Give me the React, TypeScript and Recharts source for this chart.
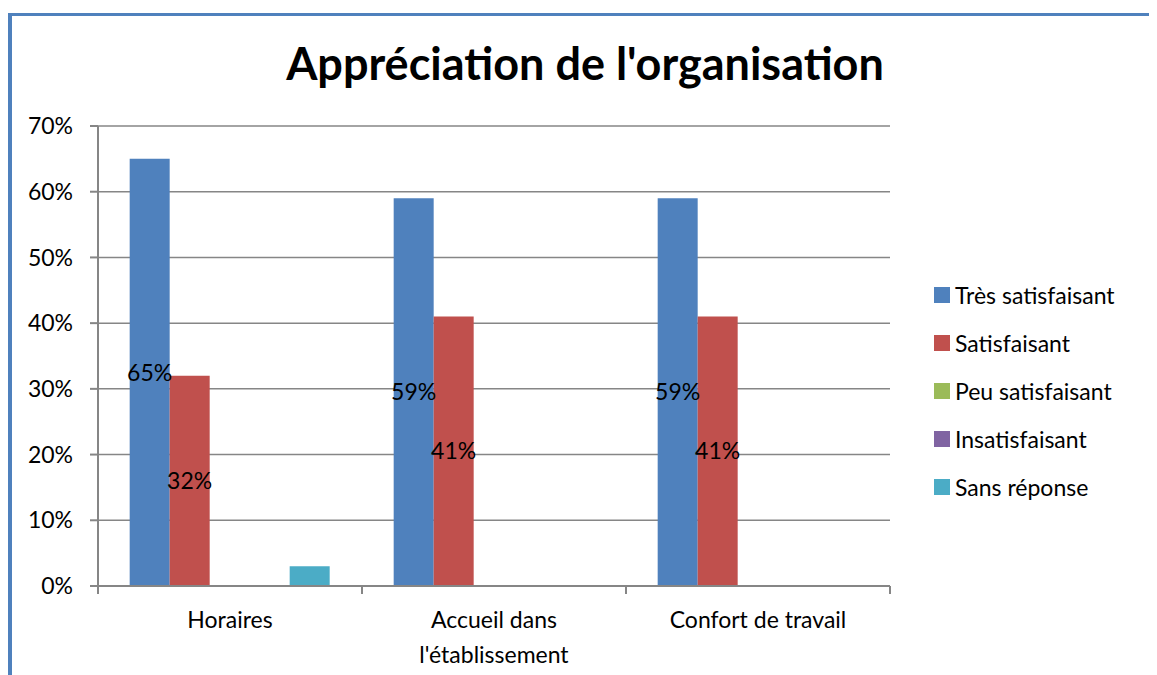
import { BarChart, Bar, XAxis, YAxis, CartesianGrid, Legend, LabelList } from 'recharts';

const categories = ['Horaires', "Accueil dans l'établissement", 'Confort de travail'];
const xTickLines = [['Horaires'], ['Accueil dans', "l'établissement"], ['Confort de travail']];
const tresSatisfaisant = [0.65, 0.59, 0.59];
const satisfaisant = [0.32, 0.41, 0.41];
const peuSatisfaisant = [0, 0, 0];
const insatisfaisant = [0, 0, 0];
const sansReponse = [0.03, 0, 0];
const yTicks = [0, 0.1, 0.2, 0.3, 0.4, 0.5, 0.6, 0.7];

const series = [
  { key: 'tres', name: 'Très satisfaisant', color: '#4F81BD', values: tresSatisfaisant, label: true },
  { key: 'sat', name: 'Satisfaisant', color: '#C0504D', values: satisfaisant, label: true },
  { key: 'peu', name: 'Peu satisfaisant', color: '#9BBB59', values: peuSatisfaisant, label: false },
  { key: 'insat', name: 'Insatisfaisant', color: '#8064A2', values: insatisfaisant, label: false },
  { key: 'sans', name: 'Sans réponse', color: '#4BACC6', values: sansReponse, label: false },
];

const data = categories.map((c, i) => {
  const row: Record<string, any> = { name: c };
  series.forEach(s => { row[s.key] = s.values[i]; });
  return row;
});

const FONT = 'Lato, "Open Sans", sans-serif';
const BAND = 264;

const pct = (v: any) => `${Math.round(Number(v) * 100)}%`;

const XTick = (props: any) => {
  const { x, y, index } = props;
  const lines = xTickLines[index] || [props.payload.value];
  return (
    <g>
      <line x1={x - BAND / 2} x2={x - BAND / 2} y1={y} y2={y + 8} stroke="#868686" strokeWidth={2} />
      {index === categories.length - 1 && (
        <line x1={x + BAND / 2} x2={x + BAND / 2} y1={y} y2={y + 8} stroke="#868686" strokeWidth={2} />
      )}
      {lines.map((l: string, i: number) => (
        <text key={i} x={x} y={y + 42 + i * 35} textAnchor="middle" fontSize={23} fill="#000" fontFamily={FONT}>
          {l}
        </text>
      ))}
    </g>
  );
};

const LegendContent = () => (
  <div style={{ fontFamily: FONT, fontSize: 23, color: '#000' }}>
    {series.map(s => (
      <div key={s.key} style={{ display: 'flex', alignItems: 'center', height: 48 }}>
        <span style={{ width: 16, height: 16, background: s.color, display: 'inline-block', marginRight: 5 }} />
        <span>{s.name}</span>
      </div>
    ))}
  </div>
);

export default function App() {
  return (
    <div style={{ position: 'relative', width: 1149, height: 667, overflow: 'hidden', background: '#fff' }}>
      <div style={{ position: 'absolute', left: 0, top: 5, width: 1200, height: 700, borderTop: '3px solid #4F81BD', borderLeft: '4px solid #4F81BD' }} />
      <div style={{ position: 'absolute', left: 227, top: 28, width: 700, textAlign: 'center', fontFamily: FONT, fontWeight: 'bold', fontSize: 45, color: '#000' }}>
        Appréciation de l'organisation
      </div>
      <BarChart width={1149} height={667} data={data} margin={{ top: 118, right: 267, bottom: 29, left: 10 }}
        barCategoryGap="12%" barGap={0}>
        <CartesianGrid vertical={false} stroke="#868686" strokeWidth={1.5} />
        <XAxis dataKey="name" height={60} interval={0} tickLine={false} tickSize={0} tickMargin={0}
          axisLine={{ stroke: '#868686', strokeWidth: 2 }} tick={<XTick />} />
        <YAxis width={80} domain={[0, 0.7]} ticks={yTicks} tickFormatter={pct} tickSize={8} tickMargin={17}
          axisLine={{ stroke: '#868686', strokeWidth: 2 }} tickLine={{ stroke: '#868686', strokeWidth: 2 }}
          tick={{ fill: '#000', fontSize: 23, fontFamily: FONT }} />
        <Legend layout="vertical" verticalAlign="middle" align="center" content={<LegendContent />}
          wrapperStyle={{ left: 926, top: 263, width: 220 }} />
        {series.map(s => (
          <Bar key={s.key} dataKey={s.key} name={s.name} fill={s.color} isAnimationActive={false}>
            {s.label && (
              <LabelList dataKey={s.key} position="center" formatter={pct} fill="#000" fontSize={23} fontFamily={FONT} />
            )}
          </Bar>
        ))}
      </BarChart>
    </div>
  );
}
